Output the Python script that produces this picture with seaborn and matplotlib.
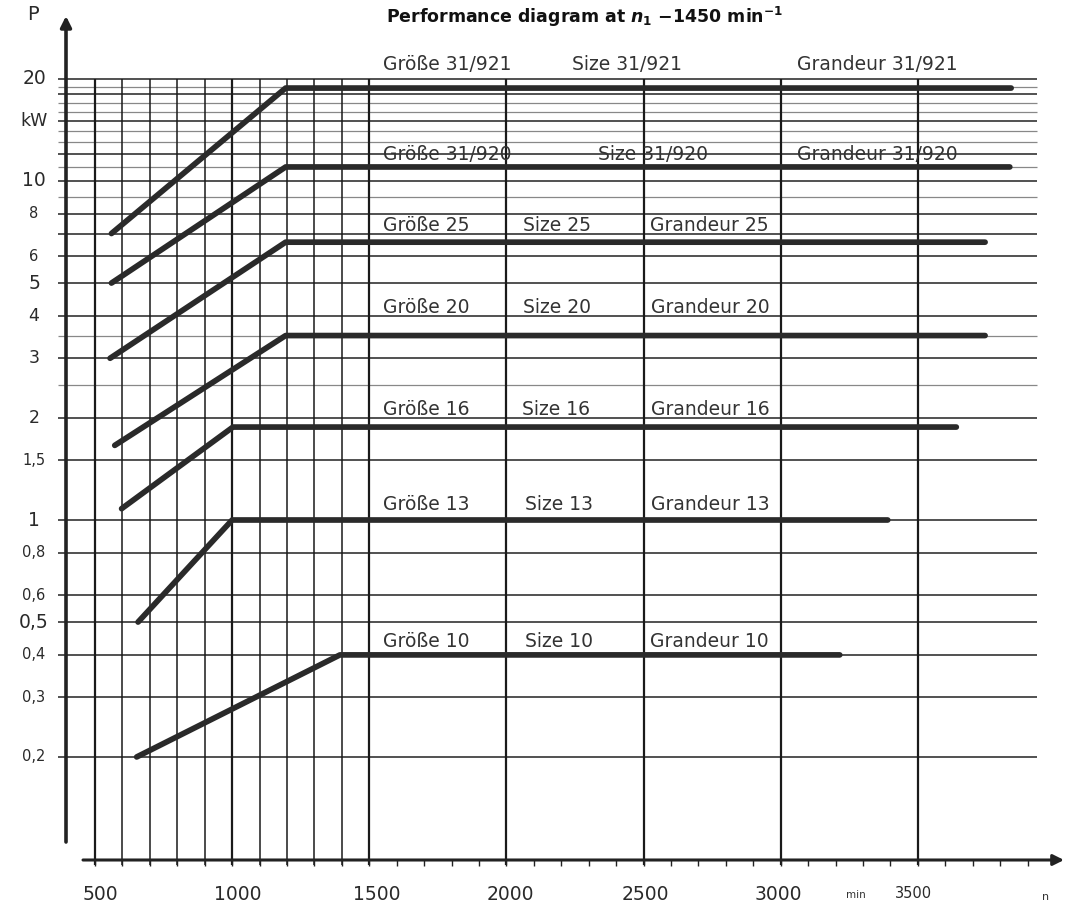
import numpy as np
import pandas as pd
import matplotlib
matplotlib.use("Agg")
import matplotlib.pyplot as plt
import seaborn as sns

# ---------------- data ----------------
sizes = ["31/921", "31/920", "25", "20", "16", "13", "10"]
n_start = [560, 560, 555, 572, 597, 657, 652]          # min^-1
p_start = [7.0, 5.0, 3.0, 1.66, 1.08, 0.5, 0.2]         # kW
n_knee = [1195, 1195, 1195, 1195, 1003, 1000, 1393]
p_rated = [18.8, 11.0, 6.6, 3.5, 1.88, 1.0, 0.4]
n_end = [3840, 3835, 3745, 3745, 3640, 3390, 3215]

grid_p = [20, 19, 18, 17, 16, 15, 14, 13, 12, 11, 10, 9, 8, 7, 6, 5, 4, 3.5, 3,
          2.5, 2, 1.5, 1, 0.8, 0.6, 0.5, 0.4, 0.3, 0.2]
grid_n = [500, 600, 700, 800, 900, 1000, 1100, 1200, 1300, 1400, 1500,
          2000, 2500, 3000, 3500]
ytick_vals = [20, 15, 10, 8, 6, 5, 4, 3, 2, 1.5, 1, 0.8, 0.6, 0.5, 0.4, 0.3, 0.2]
ytick_labels = ["20", "kW", "10", "8", "6", "5", "4", "3", "2", "1,5", "1",
                "0,8", "0,6", "0,5", "0,4", "0,3", "0,2"]
xtick_vals = [500, 1000, 1500, 2000, 2500, 3000, 3500]
xtick_labels = ["500", "1000", "1500", "2000", "2500", "3000", "3500"]

# ---------------- styling ----------------
sns.set_style("white")
plt.rcParams["font.family"] = ["DejaVu Sans"]
plt.rcParams["mathtext.fontset"] = "custom"
plt.rcParams["mathtext.rm"] = "DejaVu Sans:bold"
plt.rcParams["mathtext.bf"] = "DejaVu Sans:bold"
plt.rcParams["mathtext.it"] = "DejaVu Sans:italic:bold"

W, H = 1066, 907
fig = plt.figure(figsize=(W / 100, H / 100), dpi=100)
ax = fig.add_axes([0, 0, 1, 1])
ax.set_yscale("log")

# layout helpers: pixel position -> data coordinates
X0_PX, X_PER_RPM, Y1_PX, DEC_PX = 95.0, 0.2743, 520.0, 339.0
def nx(px):
    return 500 + (px - X0_PX) / X_PER_RPM
def py(px):
    return 10 ** ((Y1_PX - px) / DEC_PX)

ax.set_xlim(nx(0), nx(W))
ax.set_ylim(py(H), py(0))

# ---------------- grid ----------------
light = {19, 17, 16, 14, 13, 11, 9, 3.5, 2.5}
for p in grid_p:
    ax.hlines(p, nx(58), nx(1037), color="#888888" if p in light else "#222222",
              lw=0.9 if p in light else 1.1, zorder=1)
for n in grid_n:
    ax.vlines(n, py(865), 20, color="#1a1a1a",
              lw=1.6 if n % 500 == 0 else 1.1, zorder=1)

# ---------------- characteristic curves ----------------
rows = []
for s, a, b, c, d, e in zip(sizes, n_start, p_start, n_knee, p_rated, n_end):
    rows += [(s, a, b), (s, c, d), (s, e, d)]
df = pd.DataFrame(rows, columns=["size", "n", "P"])
sns.lineplot(data=df, x="n", y="P", units="size", estimator=None, sort=False,
             color="#2a2a2a", lw=4.1, solid_capstyle="round",
             solid_joinstyle="round", ax=ax, zorder=3, legend=False)

# ---------------- axes (arrows) ----------------
ax.annotate("", xy=(nx(66), py(16)), xytext=(nx(66), py(842)),
            arrowprops=dict(arrowstyle="-|>", lw=2.6, color="#222222",
                            mutation_scale=16, shrinkA=0, shrinkB=0), zorder=4)
ax.annotate("", xy=(nx(1064), py(860)), xytext=(nx(83), py(860)),
            arrowprops=dict(arrowstyle="-|>", lw=2.2, color="#222222",
                            mutation_scale=16, shrinkA=0, shrinkB=0), zorder=4)
ax.vlines(np.arange(500, 4000, 100), py(860), py(866), color="#222222", lw=1.0)

# ---------------- tick labels ----------------
big = {"20", "10", "5", "1", "0,5"}
mid = {"4", "3", "2", "kW"}
for v, lab in zip(ytick_vals, ytick_labels):
    fs = 13.5 if lab in big else (12.5 if lab in mid else 10.5)
    ax.text(nx(34), v, lab, ha="center", va="center", fontsize=fs, color="#2a2a2a")
ax.text(nx(33), py(14), "P", ha="center", va="center", fontsize=14, color="#2a2a2a")

xlab_px = [100, 238, 377, 510, 645, 778, 913]
for lab, px in zip(xtick_labels, xlab_px):
    fs = 10.5 if lab == "3500" else 13.5
    ax.text(nx(px), py(894), lab, ha="center", va="center", fontsize=fs, color="#2a2a2a")
ax.text(nx(856), py(895), "min", ha="center", va="center", fontsize=7.5, color="#333333")
ax.text(nx(1046), py(897), "n", ha="center", va="center", fontsize=8, color="#333333")

# ---------------- size labels ----------------
base_px = [70, 160, 231, 313, 415, 510, 647]
size_px = [572, 598, 523, 523, 522, 525, 525]
gran_px = [797, 797, 650, 651, 651, 651, 650]
for s, b, sx, gx in zip(sizes, base_px, size_px, gran_px):
    for txt, x in ((f"Größe {s}", 383), (f"Size {s}", sx), (f"Grandeur {s}", gx)):
        ax.text(nx(x), py(b), txt, ha="left", va="baseline", fontsize=13.5,
                color="#333333", zorder=5)

# ---------------- title ----------------
ax.text(nx(386), py(23), r"Performance diagram at $n_1$ $-$1450 min$^{-1}$",
        ha="left", va="baseline", fontsize=12.5, fontweight="bold", color="#111111")

ax.set_xlabel("")
ax.set_ylabel("")
ax.axis("off")
fig.savefig("out.png", dpi=100)
